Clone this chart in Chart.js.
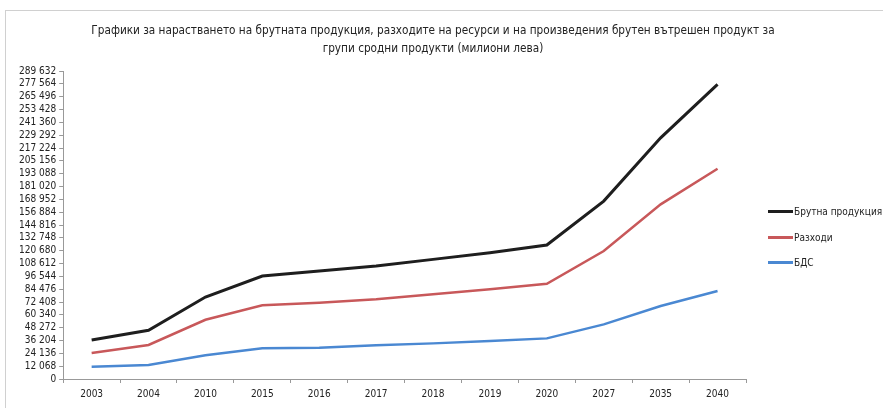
<!DOCTYPE html>
<html>
<head>
<meta charset="utf-8">
<script src="https://cdn.jsdelivr.net/npm/chart.js@4.4.1/dist/chart.umd.min.js"></script>
<style>
  html, body { margin: 0; padding: 0; background: #fff; }
  #wrap { position: relative; width: 883px; height: 408px; overflow: hidden; }
  #frame { position: absolute; left: 5px; top: 10px; width: 900px; height: 420px; border-left: 1px solid #d0d0d0; border-top: 1px solid #d0d0d0; }
  canvas { position: absolute; left: 0; top: 0; }
  #title { position: absolute; left: 33px; width: 800px; top: 21px; text-align: center; font-family: "DejaVu Sans Condensed", sans-serif; font-size: 11.7px; line-height: 18px; color: #222; }
  #legend { position: absolute; left: 768px; top: 199px; font-family: "DejaVu Sans Condensed", sans-serif; font-size: 10px; color: #222; white-space: nowrap; }
  #legend .item { display: flex; align-items: center; height: 25.5px; }
  #legend .sw { width: 25px; height: 3px; margin-right: 1px; }
</style>
</head>
<body>
<div id="wrap">
  <div id="frame"></div>
  <canvas id="c" width="883" height="408"></canvas>
  <div id="title"></div>
  <div id="legend"></div>
</div>
<script>
const categories = ["2003","2004","2010","2015","2016","2017","2018","2019","2020","2027","2035","2040"];
const grossOutput = [36700, 45800, 77100, 96800, 101500, 106200, 112500, 118700, 126000, 167300, 226800, 277000];
const expenses    = [24400, 32000, 55700, 69300, 71700, 74900, 79600, 84300, 89600, 120300, 164200, 197700];
const gva         = [11600, 13200, 22300, 28900, 29400, 31700, 33500, 35700, 38200, 51400, 68600, 82700];
const seriesLabels = ["Брутна продукция", "Разходи", "БДС"];
const seriesColors = ["#1e1e1e", "#c8585a", "#4a88d2"];
const yMax = 289632;
const yStep = 12068;
const titleLines = [
  "Графики за нарастването на брутната продукция, разходите на ресурси и на произведения брутен вътрешен продукт за",
  "групи сродни продукти (милиони лева)"
];

const font = "'DejaVu Sans Condensed', sans-serif";
const seriesData = [grossOutput, expenses, gva];
const widths = [3, 2.5, 2.5];

const titleEl = document.getElementById("title");
titleLines.forEach(t => { const d = document.createElement("div"); d.textContent = t; titleEl.appendChild(d); });

const chart = new Chart(document.getElementById("c"), {
  type: "line",
  data: {
    labels: categories,
    datasets: seriesData.map((d, i) => ({
      label: seriesLabels[i],
      data: d,
      borderColor: seriesColors[i],
      backgroundColor: seriesColors[i],
      borderWidth: widths[i],
      pointRadius: 0,
      tension: 0,
      fill: false
    }))
  },
  options: {
    responsive: false,
    animation: false,
    layout: { padding: { left: 16, right: 137, top: 71, bottom: 3 } },
    plugins: {
      legend: { display: false },
      tooltip: { enabled: false },
      title: { display: false }
    },
    scales: {
      x: {
        offset: true,
        grid: { display: true, drawOnChartArea: false, offset: true, tickLength: 4, color: "#999" },
        border: { display: true, color: "#999", width: 1 },
        ticks: { color: "#222", font: { family: font, size: 10 }, padding: 5, maxRotation: 0, autoSkip: false }
      },
      y: {
        min: 0,
        max: yMax,
        grid: { display: true, drawOnChartArea: false, tickLength: 4, color: "#999" },
        border: { display: true, color: "#999", width: 1 },
        ticks: {
          stepSize: yStep,
          color: "#222",
          font: { family: font, size: 10 },
          padding: 3,
          autoSkip: false,
          callback: v => String(v).replace(/\B(?=(\d{3})+(?!\d))/g, " ")
        }
      }
    }
  }
});

const leg = document.getElementById("legend");
chart.data.datasets.forEach(ds => {
  const it = document.createElement("div");
  it.className = "item";
  const sw = document.createElement("span");
  sw.className = "sw";
  sw.style.background = ds.borderColor;
  const tx = document.createElement("span");
  tx.textContent = ds.label;
  it.appendChild(sw); it.appendChild(tx);
  leg.appendChild(it);
});
</script>
</body>
</html>
